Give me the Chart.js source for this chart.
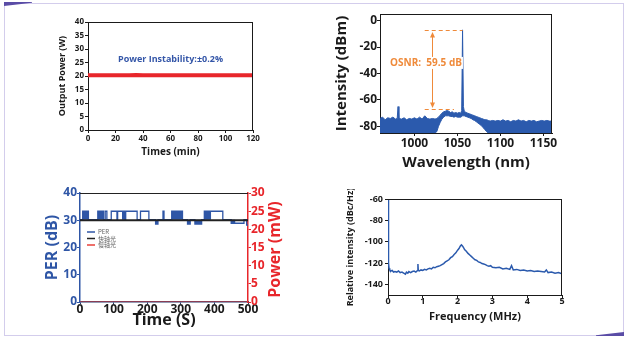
<!DOCTYPE html>
<html>
<head>
<meta charset="utf-8">
<script src="https://cdn.jsdelivr.net/npm/chart.js@4.4.1/dist/chart.umd.min.js"></script>
<style>
  html, body { margin: 0; padding: 0; background: #fff; }
  body { width: 630px; height: 341px; position: relative; overflow: hidden; }
  canvas { position: absolute; }
  .frame { position: absolute; left: 4px; top: 3px; width: 618px; height: 331px; border: 1px solid #d3cdec; }
  .corner-a { position: absolute; left: 4px; top: 2px; width: 28px; height: 4px; background: #5a4ca6;
              clip-path: polygon(0 0, 100% 0, 100% 20%, 0 100%); }
  .corner-b { position: absolute; left: 596px; top: 332px; width: 28px; height: 4px; background: #5a4ca6;
              clip-path: polygon(100% 0, 100% 100%, 0 100%, 0 80%); }
</style>
</head>
<body>
<div class="frame"></div>
<div class="corner-a"></div>
<div class="corner-b"></div>
<canvas id="power" width="215" height="146" style="left:50px;top:14px"></canvas>
<canvas id="spectrum" width="240" height="172" style="left:325px;top:4px"></canvas>
<canvas id="per" width="265" height="150" style="left:28px;top:183px"></canvas>
<canvas id="rin" width="240" height="140" style="left:335px;top:189px"></canvas>
<script>
// ---- output power over time ----
const powerTime = [0, 5, 10, 15, 20, 25, 30, 35, 40, 45, 50, 55, 60, 65, 70, 75, 80, 85, 90, 95, 100, 105, 110, 115, 120];
const powerWatts = [20.3, 20.32, 20.28, 20.3, 20.31, 20.29, 20.3, 20.33, 20.3, 20.28, 20.3, 20.31, 20.3, 20.29, 20.32, 20.3, 20.28, 20.3, 20.31, 20.3, 20.29, 20.3, 20.32, 20.3, 20.28];
const powerNote = 'Power Instability:±0.2%';
const powerNoteAt = [60, 26];

// ---- optical spectrum (noise envelope, upper and lower edge) ----
const wavelength = [960, 963, 966, 969, 972, 975, 978, 980, 981, 982, 985, 988, 991, 994, 997, 1000, 1003, 1006, 1009, 1012,
  1015, 1018, 1021, 1024, 1026, 1028, 1030, 1032, 1034, 1036, 1038, 1040, 1042, 1044, 1046, 1048, 1050, 1052, 1054, 1055,
  1056, 1057, 1058, 1060, 1062, 1064, 1066, 1068, 1070, 1072, 1074, 1076, 1078, 1080, 1082, 1084, 1086, 1088, 1091, 1094,
  1097, 1100, 1103, 1106, 1109, 1112, 1115, 1118, 1121, 1124, 1127, 1130, 1133, 1136, 1139, 1142, 1145, 1148, 1151, 1154, 1157, 1160];
const specUpper = [-74, -73, -75, -73.5, -74, -73, -74.5, -74, -65, -74, -74.5, -73.5, -75, -74, -74.5, -73.5, -74.5, -73, -74.5, -72,
  -74, -74.5, -74, -74.5, -74, -73, -71.5, -70, -69, -68.5, -68, -68.5, -69.5, -69, -70, -69.5, -70, -69.5, -70, -68,
  -7, -65, -68.5, -69.5, -70, -70.5, -71, -71.5, -72, -72.5, -73, -73.5, -74, -74.5, -75, -75, -75.5, -76, -75.5, -76,
  -75.5, -76, -75, -76, -75.5, -76.5, -75.5, -76, -75, -76, -75.5, -76.5, -75.5, -76, -75.5, -76.5, -76, -75.5, -76, -75.5, -76, -76];
const specLower = [-85, -85, -85, -85, -85, -85, -85, -85, -85, -85, -85, -85, -85, -85, -85, -85, -85, -85, -85, -85,
  -85, -85, -85, -85, -84, -80, -77, -74.5, -73, -72, -72, -72, -72.5, -72.5, -73, -72.5, -73, -73, -73, -72.5,
  -72, -72, -72, -72.5, -73, -73.5, -74, -75, -75.5, -76.5, -77.5, -78.5, -79.5, -81, -82.5, -84, -85, -85, -85, -85,
  -85, -85, -85, -85, -85, -85, -85, -85, -85, -85, -85, -85, -85, -85, -85, -85, -85, -85, -85, -85, -85, -85];
const osnrPeak = -7;
const osnrFloor = -66.5;
const osnrArrowAt = 1020;
const osnrDashFrom = 1012;
const osnrPeakDashTo = 1056;
const osnrFloorDashTo = 1046;
const osnrText = 'OSNR:  59.5 dB';
const osnrTextAt = [1013.5, -32];

// ---- PER and power over time ----
const perTime = [0, 8, 25, 53, 70, 75, 80, 93, 110, 112, 135, 136, 170, 180, 205, 225, 232, 247, 250, 273, 305, 320, 328, 342, 362, 370, 425, 450, 488, 496, 500];
const perValue = [30.2, 33.3, 30.2, 33.3, 30.2, 33.3, 30.2, 33.3, 30.2, 33.3, 30.2, 33.3, 30.2, 33.3, 30.2, 28.6, 30.2, 33.3, 30.2, 33.3, 30.2, 28.6, 30.2, 28.6, 30.2, 33.3, 30.2, 28.9, 30.2, 28.2, 28.2];
// stretches where PER toggles too fast to resolve (drawn solid)
const perDenseTime = [0, 8, 25, 53, 70, 125, 135, 225, 232, 273, 305, 320, 328, 342, 362, 370, 390, 450, 462, 500];
const perDenseValue = [30.2, 33.3, 30.2, 33.3, 30.2, 33.3, 30.2, 28.6, 30.2, 33.3, 30.2, 28.6, 30.2, 28.6, 30.2, 33.3, 30.2, 28.9, 30.2, 30.2];
const perBase = 30.2;
const axisPowerTime = [0, 100, 200, 300, 400, 500];
const fastAxisMw = [22.5, 22.5, 22.5, 22.5, 22.5, 22.5];
const slowAxisMw = [0, 0, 0, 0, 0, 0];

// ---- relative intensity noise ----
const rinFreq = [0, 0.01, 0.02, 0.03, 0.05, 0.08, 0.12, 0.16, 0.2, 0.25, 0.3, 0.35, 0.4, 0.45, 0.5, 0.53, 0.57, 0.6, 0.65, 0.7,
  0.75, 0.8, 0.85, 0.86, 0.87, 0.9, 0.95, 1.0, 1.05, 1.1, 1.15, 1.2, 1.25, 1.3, 1.35, 1.4, 1.45, 1.5, 1.55, 1.6,
  1.65, 1.7, 1.75, 1.8, 1.85, 1.9, 1.95, 2.0, 2.04, 2.08, 2.11, 2.14, 2.17, 2.2, 2.25, 2.3, 2.35, 2.4, 2.45, 2.5,
  2.55, 2.6, 2.65, 2.7, 2.75, 2.8, 2.85, 2.9, 2.95, 3.0, 3.1, 3.2, 3.3, 3.4, 3.5, 3.55, 3.6, 3.7, 3.8, 3.9,
  4.0, 4.1, 4.2, 4.3, 4.4, 4.5, 4.55, 4.6, 4.7, 4.8, 4.9, 5.0];
const rinValue = [-61, -95, -120, -125, -126.5, -127.5, -127, -128.5, -128, -128.5, -127.5, -129, -128.5, -129.5, -130.5, -128.5, -129.5, -128, -129, -128,
  -127.5, -128.5, -127, -121, -127, -127.5, -126.5, -127, -126, -126.5, -125.5, -125, -125.5, -124, -124.5, -123.5, -123, -122.5, -121.5, -120.5,
  -119, -118, -117, -115, -114, -112, -110.5, -108, -106.5, -104, -103, -104, -105.5, -107.5, -109, -111, -112.5, -114, -115.5, -117,
  -117.5, -119, -119.5, -120.5, -121, -121.5, -122.5, -123, -122.5, -124, -124.5, -124, -125.5, -125, -126, -122.5, -126.5, -126, -127, -126.5,
  -127.5, -127, -128, -127.5, -128, -128.5, -126.5, -129, -128.5, -129.5, -129, -130];

const FONT = '"Open Sans", "Noto Sans", "DejaVu Sans", sans-serif';
const INK = '#1a1a1a';
const BLUE = '#2b5aad';
const PER_BLUE = '#2f56a6';
const RED = '#e8262b';
const ORANGE = '#ef8a3a';

Chart.defaults.font.family = FONT;
Chart.defaults.font.weight = 'bold';
Chart.defaults.color = INK;
Chart.defaults.animation = false;
Chart.defaults.responsive = false;
Chart.defaults.devicePixelRatio = 1;
Chart.defaults.plugins.legend.display = false;
Chart.defaults.plugins.tooltip.enabled = false;
Chart.defaults.elements.point.radius = 0;

const xy = (xs, ys) => xs.map((x, i) => ({ x: x, y: ys[i] }));
const plain = v => String(v);

function ticksOnly(color, len) {
  return { display: true, drawOnChartArea: false, drawTicks: true, tickLength: len || 3, color: color, tickColor: color };
}

// top and right edges of the plot box
function boxEdges(topColor, rightColor) {
  return {
    id: 'boxEdges',
    afterDatasetsDraw(chart) {
      const { ctx, chartArea: a } = chart;
      ctx.save();
      ctx.lineWidth = 1;
      ctx.strokeStyle = topColor;
      ctx.beginPath();
      ctx.moveTo(a.left, Math.round(a.top) + 0.5);
      ctx.lineTo(a.right, Math.round(a.top) + 0.5);
      ctx.stroke();
      if (rightColor) {
        ctx.strokeStyle = rightColor;
        ctx.beginPath();
        ctx.moveTo(Math.round(a.right) - 0.5, a.top);
        ctx.lineTo(Math.round(a.right) - 0.5, a.bottom);
        ctx.stroke();
      }
      ctx.restore();
    }
  };
}

// output power
new Chart(document.getElementById('power'), {
  type: 'line',
  data: {
    datasets: [{ data: xy(powerTime, powerWatts), borderColor: RED, borderWidth: 4 }]
  },
  options: {
    layout: { padding: { top: 8, right: 12 } },
    scales: {
      x: {
        type: 'linear', min: 0, max: 120,
        ticks: { stepSize: 20, font: { size: 8 }, padding: 1 },
        grid: ticksOnly(INK), border: { color: INK },
        title: { display: true, text: 'Times (min)', font: { size: 10 }, padding: { top: 0, bottom: 2 } },
        afterFit: s => { s.height = 30; }
      },
      y: {
        min: 0, max: 40,
        ticks: { stepSize: 5, font: { size: 8 }, padding: 1 },
        grid: ticksOnly(INK), border: { color: INK },
        title: { display: true, text: 'Output Power (W)', font: { size: 9 }, padding: { top: 7, bottom: 0 } },
        afterFit: s => { s.width = 38; }
      }
    }
  },
  plugins: [boxEdges(INK, INK), {
    id: 'powerNote',
    afterDatasetsDraw(chart) {
      const { ctx, scales } = chart;
      ctx.save();
      ctx.font = 'bold 9px ' + FONT;
      ctx.fillStyle = '#3456a8';
      ctx.textAlign = 'center';
      ctx.textBaseline = 'middle';
      ctx.fillText(powerNote, scales.x.getPixelForValue(powerNoteAt[0]), scales.y.getPixelForValue(powerNoteAt[1]));
      ctx.restore();
    }
  }]
});

// spectrum with OSNR marker
new Chart(document.getElementById('spectrum'), {
  type: 'line',
  data: {
    datasets: [
      { data: xy(wavelength, specUpper), borderColor: BLUE, borderWidth: 1, backgroundColor: BLUE, fill: '+1' },
      { data: xy(wavelength, specLower), borderColor: BLUE, borderWidth: 1, fill: false }
    ]
  },
  options: {
    layout: { padding: { top: 10, right: 13 } },
    scales: {
      x: {
        type: 'linear', min: 960, max: 1160,
        afterBuildTicks: s => { s.ticks = [1000, 1050, 1100, 1150].map(v => ({ value: v })); },
        ticks: { font: { size: 12 }, padding: 0, callback: plain },
        grid: ticksOnly(INK), border: { color: INK },
        title: { display: true, text: 'Wavelength (nm)', font: { size: 15 }, padding: { top: 0, bottom: 4 } },
        afterFit: s => { s.height = 43; }
      },
      y: {
        min: -85, max: 5,
        afterBuildTicks: s => { s.ticks = [-80, -60, -40, -20, 0].map(v => ({ value: v })); },
        ticks: { font: { size: 12 }, padding: 0, callback: plain },
        grid: ticksOnly(INK), border: { color: INK },
        title: { display: true, text: 'Intensity (dBm)', font: { size: 15 }, padding: { top: 8, bottom: 0 } },
        afterFit: s => { s.width = 55; }
      }
    }
  },
  plugins: [boxEdges(INK, INK), {
    id: 'osnr',
    afterDatasetsDraw(chart) {
      const { ctx, scales: { x, y } } = chart;
      const yTop = Math.round(y.getPixelForValue(osnrPeak)) + 0.5;
      const yBot = Math.round(y.getPixelForValue(osnrFloor)) + 0.5;
      const xa = Math.round(x.getPixelForValue(osnrArrowAt)) + 0.5;
      ctx.save();
      ctx.strokeStyle = ORANGE;
      ctx.fillStyle = ORANGE;
      ctx.lineWidth = 1.2;
      ctx.setLineDash([4, 3]);
      ctx.beginPath();
      ctx.moveTo(x.getPixelForValue(osnrDashFrom), yTop);
      ctx.lineTo(x.getPixelForValue(osnrPeakDashTo), yTop);
      ctx.moveTo(x.getPixelForValue(osnrDashFrom), yBot);
      ctx.lineTo(x.getPixelForValue(osnrFloorDashTo), yBot);
      ctx.stroke();
      ctx.setLineDash([]);
      ctx.lineWidth = 1;
      ctx.beginPath();
      ctx.moveTo(xa, yTop + 3);
      ctx.lineTo(xa, yBot - 3);
      ctx.stroke();
      ctx.beginPath();
      ctx.moveTo(xa, yTop + 1.5); ctx.lineTo(xa - 2.5, yTop + 7); ctx.lineTo(xa + 2.5, yTop + 7); ctx.closePath();
      ctx.moveTo(xa, yBot - 1.5); ctx.lineTo(xa - 2.5, yBot - 7); ctx.lineTo(xa + 2.5, yBot - 7); ctx.closePath();
      ctx.fill();
      ctx.font = 'bold 10px ' + FONT;
      ctx.textAlign = 'center';
      ctx.textBaseline = 'middle';
      const tx = x.getPixelForValue(osnrTextAt[0]);
      const ty = y.getPixelForValue(osnrTextAt[1]);
      const w = ctx.measureText(osnrText).width;
      ctx.fillStyle = '#fff';
      ctx.fillRect(tx - w / 2 - 1, ty - 6, w + 2, 12);
      ctx.fillStyle = ORANGE;
      ctx.fillText(osnrText, tx, ty);
      ctx.restore();
    }
  }]
});

// PER and axis power
new Chart(document.getElementById('per'), {
  type: 'line',
  data: {
    datasets: [
      { label: '快轴光', data: xy(axisPowerTime, fastAxisMw), yAxisID: 'y1', borderColor: '#222', borderWidth: 2, order: 0 },
      { label: '慢轴光', data: xy(axisPowerTime, slowAxisMw), yAxisID: 'y1', borderColor: '#e8413a', borderWidth: 1, order: 1 },
      { label: 'PER', data: xy(perTime, perValue), yAxisID: 'y', stepped: true, borderColor: PER_BLUE, borderWidth: 1.3, order: 2 },
      { label: '', data: xy(perDenseTime, perDenseValue), yAxisID: 'y', stepped: true, borderColor: PER_BLUE, borderWidth: 0,
        backgroundColor: PER_BLUE, fill: { value: perBase }, order: 3 }
    ]
  },
  options: {
    layout: { padding: { top: 10 } },
    scales: {
      x: {
        type: 'linear', min: 0, max: 500, z: 1,
        ticks: { stepSize: 100, font: { size: 12 }, padding: -2 },
        grid: ticksOnly('#2a3a6e', 2), border: { color: '#2a3a6e', width: 1.5 },
        title: { display: true, text: 'Time (S)', font: { size: 16 }, padding: { top: 0, bottom: 3 } },
        afterFit: s => { s.height = 31; }
      },
      y: {
        position: 'left', min: 0, max: 40,
        ticks: { stepSize: 5, font: { size: 12 }, color: PER_BLUE, padding: 0 },
        grid: ticksOnly(PER_BLUE), border: { color: PER_BLUE, width: 1.5 },
        title: { display: true, text: 'PER (dB)', color: PER_BLUE, font: { size: 16 }, padding: { top: 15, bottom: 0 } },
        afterFit: s => { s.width = 52; }
      },
      y1: {
        position: 'right', min: 0, max: 30,
        ticks: { stepSize: 5, font: { size: 12 }, color: RED, padding: 0 },
        grid: ticksOnly(RED), border: { color: RED, width: 1.5 },
        afterFit: s => { s.width = 45; }
      }
    }
  },
  plugins: [boxEdges('#222', null), {
    id: 'perLegend',
    afterDatasetsDraw(chart) {
      const { ctx, chartArea: a } = chart;
      const rows = [2, 0, 1];
      ctx.save();
      ctx.font = '6px "Noto Sans CJK SC", ' + FONT;
      ctx.textBaseline = 'middle';
      rows.forEach((di, i) => {
        const ds = chart.data.datasets[di];
        const yy = a.top + 39 + i * 6.5;
        ctx.strokeStyle = ds.borderColor;
        ctx.lineWidth = 1.5;
        ctx.beginPath();
        ctx.moveTo(a.left + 7, yy);
        ctx.lineTo(a.left + 15, yy);
        ctx.stroke();
        ctx.fillStyle = '#666';
        ctx.fillText(ds.label, a.left + 18, yy);
      });
      // right-hand axis title reads bottom to top like the left one
      ctx.font = 'bold 16px ' + FONT;
      ctx.fillStyle = RED;
      ctx.textAlign = 'center';
      ctx.translate(chart.width - 18, (a.top + a.bottom) / 2 + 2);
      ctx.rotate(-Math.PI / 2);
      ctx.fillText('Power (mW)', 0, 0);
      ctx.restore();
    }
  }]
});

// relative intensity noise
new Chart(document.getElementById('rin'), {
  type: 'line',
  data: {
    datasets: [{ data: xy(rinFreq, rinValue), borderColor: BLUE, borderWidth: 1.5 }]
  },
  options: {
    layout: { padding: { top: 10, right: 13 } },
    scales: {
      x: {
        type: 'linear', min: 0, max: 5,
        ticks: { stepSize: 1, font: { size: 9 }, padding: -2 },
        grid: ticksOnly(INK), border: { color: INK },
        title: { display: true, text: 'Frequency (MHz)', font: { size: 11 }, padding: { top: 0, bottom: 6 } },
        afterFit: s => { s.height = 34; }
      },
      y: {
        min: -150, max: -60,
        afterBuildTicks: s => { s.ticks = [-140, -120, -100, -80, -60].map(v => ({ value: v })); },
        ticks: { font: { size: 9 }, padding: 2 },
        grid: ticksOnly(INK), border: { color: INK },
        title: { display: true, text: 'Relative intensity (dBc/Hz)', font: { size: 9 }, padding: { top: 10, bottom: 0 } },
        afterFit: s => { s.width = 53; }
      }
    }
  },
  plugins: [boxEdges(INK, INK)]
});
</script>
</body>
</html>
